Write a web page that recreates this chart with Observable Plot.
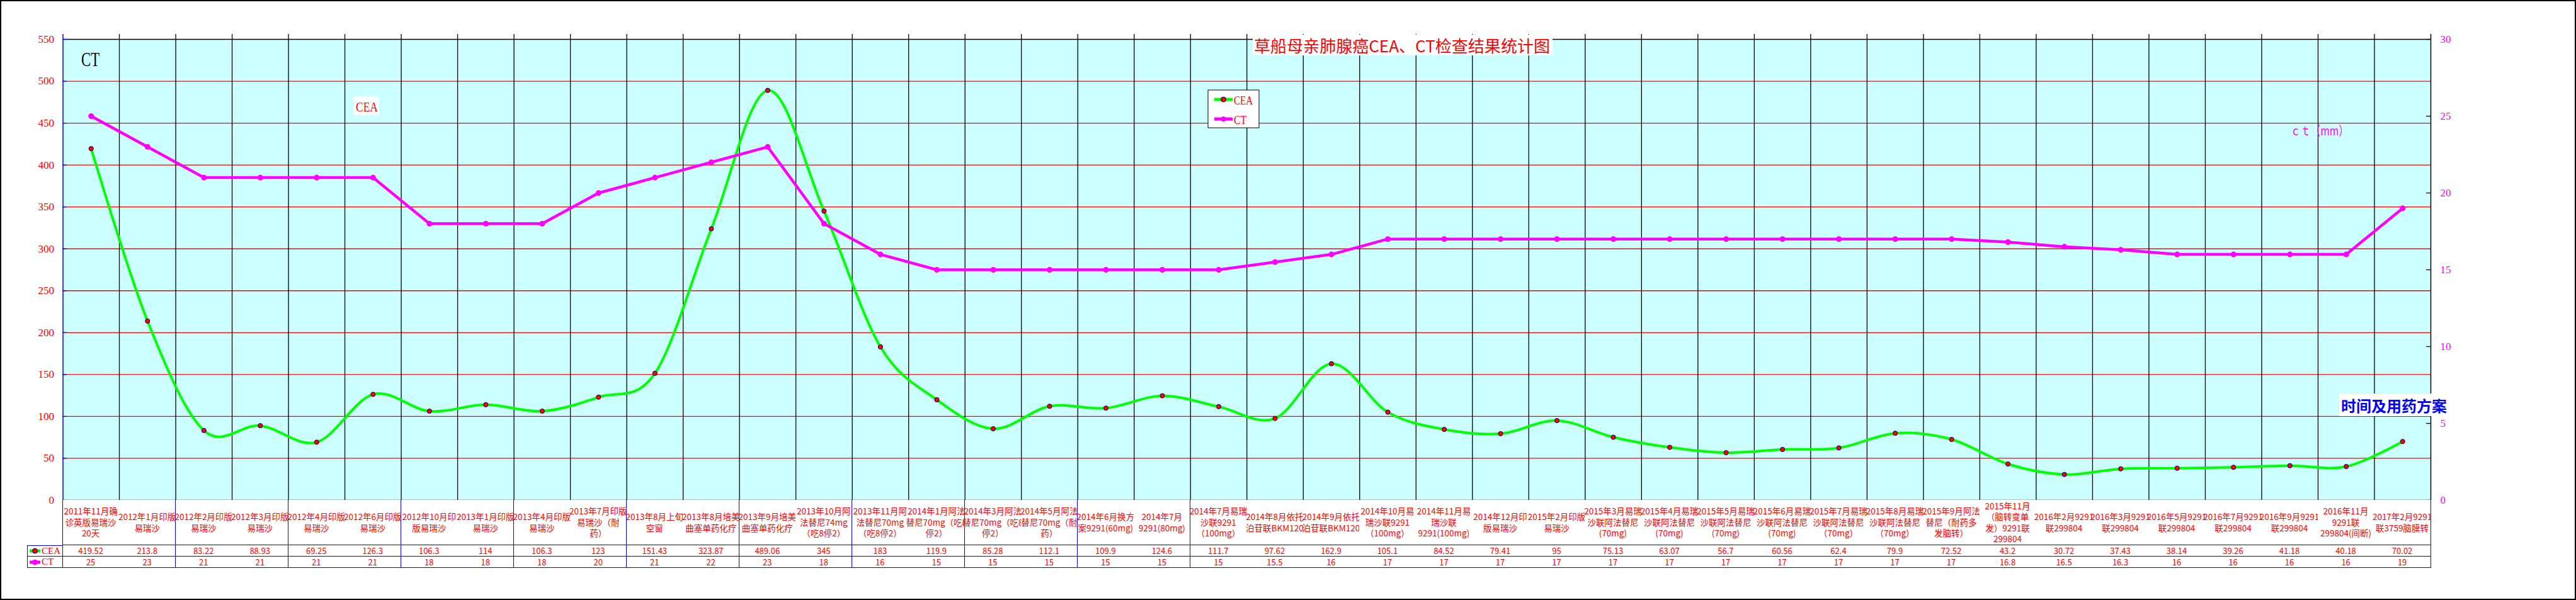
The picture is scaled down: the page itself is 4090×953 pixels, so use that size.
<!DOCTYPE html>
<html><head><meta charset="utf-8">
<script src="https://cdn.jsdelivr.net/npm/d3@7"></script>
<script src="https://cdn.jsdelivr.net/npm/@observablehq/plot@0.6"></script>
<style>
body{margin:0;background:#fff;}
#wrap{position:relative;width:4090px;height:953px;overflow:hidden;background:#fff;}
#chart{position:absolute;left:0;top:0;}
#frame{position:absolute;left:0;top:0;width:4090px;height:953px;box-sizing:border-box;border:2px solid #000;pointer-events:none;}
.cell{position:absolute;box-sizing:border-box;border-right:1.5px solid #00f;border-bottom:1.5px solid #00f;background:#fff;color:#f00;display:flex;align-items:center;justify-content:center;text-align:center;white-space:pre;overflow:visible;}
.hdr{font-family:"Noto Sans CJK SC";font-size:13.5px;line-height:17.5px;}
.val{font-family:"Noto Sans CJK SC";font-size:13px;line-height:18px;}
.leg{justify-content:flex-start;font-family:"Liberation Serif";font-size:15px;}
</style></head><body>
<div id="wrap"><div id="chart"></div><div id="frame"></div></div>
<script>
const labels = [
"2011年11月确\n诊英版易瑞沙\n20天","2012年1月印版\n易瑞沙","2012年2月印版\n易瑞沙","2012年3月印版\n易瑞沙","2012年4月印版\n易瑞沙","2012年6月印版\n易瑞沙","2012年10月印\n版易瑞沙","2013年1月印版\n易瑞沙","2013年4月印版\n易瑞沙","2013年7月印版\n易瑞沙（耐\n药）","2013年8月上旬\n空窗","2013年8月培美\n曲塞单药化疗","2013年9月培美\n曲塞单药化疗","2013年10月阿\n法替尼74mg\n（吃8停2）","2013年11月阿\n法替尼70mg\n（吃8停2）","2014年1月阿法\n替尼70mg（吃8\n停2）","2014年3月阿法\n替尼70mg（吃8\n停2）","2014年5月阿法\n替尼70mg（耐\n药）","2014年6月换方\n案9291(60mg)","2014年7月\n9291(80mg)","2014年7月易瑞\n沙联9291\n（100mg）","2014年8月依托\n泊苷联BKM120","2014年9月依托\n泊苷联BKM120","2014年10月易\n瑞沙联9291\n（100mg）","2014年11月易\n瑞沙联\n9291(100mg)","2014年12月印\n版易瑞沙","2015年2月印版\n易瑞沙","2015年3月易瑞\n沙联阿法替尼\n(70mg)","2015年4月易瑞\n沙联阿法替尼\n(70mg)","2015年5月易瑞\n沙联阿法替尼\n(70mg)","2015年6月易瑞\n沙联阿法替尼\n(70mg)","2015年7月易瑞\n沙联阿法替尼\n（70mg）","2015年8月易瑞\n沙联阿法替尼\n（70mg）","2015年9月阿法\n替尼（耐药多\n发脑转）","2015年11月\n（脑转变单\n发）9291联\n299804","2016年2月9291\n联299804","2016年3月9291\n联299804","2016年5月9291\n联299804","2016年7月9291\n联299804","2016年9月9291\n联299804","2016年11月\n9291联\n299804(间断)","2017年2月9291\n联3759脑膜转"];
const ceaText = ["419.52","213.8","83.22","88.93","69.25","126.3","106.3","114","106.3","123","151.43","323.87","489.06","345","183","119.9","85.28","112.1","109.9","124.6","111.7","97.62","162.9","105.1","84.52","79.41","95","75.13","63.07","56.7","60.56","62.4","79.9","72.52","43.2","30.72","37.43","38.14","39.26","41.18","40.18","70.02"];
const ctText = ["25","23","21","21","21","21","18","18","18","20","21","22","23","18","16","15","15","15","15","15","15","15.5","16","17","17","17","17","17","17","17","17","17","17","17","16.8","16.5","16.3","16","16","16","16","19"];
const cea = ceaText.map(Number);
const ct = ctText.map(Number);
const ceaTicks = [0,50,100,150,200,250,300,350,400,450,500,550];
const ctTicks = [0,5,10,15,20,25,30];
const CEA_MAX = 550, CT_MAX = 30;

const n = labels.length;
const idx = d3.range(n);
const ctY = v => v * CEA_MAX / CT_MAX;
const cx = i => i + 0.5;

const plot = Plot.plot({
  width: 4090, height: 953,
  marginLeft: 99.5, marginRight: 231, marginTop: 62, marginBottom: 159,
  x: {domain: [0, n], axis: null},
  y: {domain: [0, CEA_MAX], axis: null},
  style: {background: "transparent", fontFamily: "Liberation Serif", overflow: "visible"},
  marks: [
    Plot.frame({fill: "#CCFFFF", stroke: "none"}),
    Plot.ruleY(ceaTicks.filter(d => d > 0 && d < CEA_MAX), {stroke: "#FF0000", strokeWidth: 1.3}),
    Plot.ruleX(d3.range(1, n), {stroke: "#000", strokeWidth: 1.3, insetTop: -8}),
    Plot.ruleY([CEA_MAX], {stroke: "#000", strokeWidth: 1.5}),
    Plot.ruleX([0], {stroke: "#0000FF", strokeWidth: 1.5, insetTop: -8}),
    Plot.ruleX([n], {stroke: "#000", strokeWidth: 1.5, insetTop: -8}),
    Plot.ruleY([0], {stroke: "#0000FF", strokeWidth: 1.5}),
    Plot.ruleY(ceaTicks, {x1: () => 0, x2: () => 0, insetRight: -6, stroke: "#0000FF", strokeWidth: 1.3}),
    Plot.ruleY(ctTicks, {y: ctY, x1: () => n, x2: () => n, insetLeft: -7, stroke: "#000", strokeWidth: 1.3}),
    Plot.text(ceaTicks, {x: () => 0, y: d => d, text: d => String(d), textAnchor: "end", dx: -14, fill: "#FF0000", fontSize: 17, fontFamily: "Liberation Serif"}),
    Plot.text(ctTicks, {x: () => n, y: ctY, text: d => String(d), textAnchor: "start", dx: 15, fill: "#FF00FF", fontSize: 17, fontFamily: "Liberation Serif"}),
    Plot.line(idx, {x: cx, y: i => cea[i], curve: "cardinal", stroke: "#00FF00", strokeWidth: 4}),
    Plot.dot(idx, {x: cx, y: i => cea[i], r: 3.6, fill: "#FF0000", stroke: "#000080", strokeWidth: 1}),
    Plot.line(idx, {x: cx, y: i => ctY(ct[i]), stroke: "#FF00FF", strokeWidth: 4.5}),
    Plot.dot(idx, {x: cx, y: i => ctY(ct[i]), r: 3.8, fill: "#FF00FF", stroke: "#FF00FF"})
  ]
});
document.getElementById("chart").appendChild(plot);

// annotations
const svg = d3.select(plot);
const g = svg.append("g").attr("text-anchor", "start");
function label(x, y, s, o) {
  if (o.box) g.append("rect").attr("x", o.box[0]).attr("y", o.box[1]).attr("width", o.box[2]).attr("height", o.box[3]).attr("fill", "#fff").attr("stroke", o.boxStroke || "none");
  const t = g.append("text").attr("x", x).attr("y", y).text(s)
    .attr("text-anchor", "start")
    .attr("fill", o.fill).attr("font-size", o.size).attr("font-family", o.font || "Liberation Serif")
    .attr("dominant-baseline", o.baseline || "central");
  if (o.weight) t.attr("font-weight", o.weight);
  if (o.len) t.attr("textLength", o.len).attr("lengthAdjust", "spacingAndGlyphs");
  return t;
}
label(1991, 71, "草船母亲肺腺癌CEA、CT检查结果统计图", {fill: "#FF0000", size: 26, font: "Noto Sans CJK SC", len: 470, box: [1989, 55, 476, 33]});
label(129, 105, "CT", {fill: "#000", size: 32, baseline: "alphabetic", len: 29});
label(565, 176.5, "CEA", {fill: "#FF0000", size: 21, baseline: "alphabetic", len: 35, box: [561.5, 153, 40, 30]});
label(3637, 206.5, "ｃｔ（mm）", {fill: "#FF00FF", size: 20, font: "Noto Sans CJK SC", len: 92});
label(3717, 643, "时间及用药方案", {fill: "#0000FF", size: 24, font: "Noto Sans CJK SC", weight: "bold", len: 168, box: [3714, 625, 173, 36]});
// legend box
g.append("rect").attr("x", 1918).attr("y", 143).attr("width", 81).attr("height", 60).attr("fill", "#fff").attr("stroke", "#000").attr("stroke-width", 1);
g.append("line").attr("x1", 1928).attr("x2", 1957).attr("y1", 158).attr("y2", 158).attr("stroke", "#00FF00").attr("stroke-width", 5);
g.append("circle").attr("cx", 1942.5).attr("cy", 158).attr("r", 4).attr("fill", "#FF0000").attr("stroke", "#000080");
label(1959, 159, "CEA", {fill: "#FF0000", size: 19, len: 30});
g.append("line").attr("x1", 1928).attr("x2", 1957).attr("y1", 189).attr("y2", 189).attr("stroke", "#FF00FF").attr("stroke-width", 5);
g.append("circle").attr("cx", 1942.5).attr("cy", 189).attr("r", 4).attr("fill", "#FF00FF");
label(1959, 190, "CT", {fill: "#FF0000", size: 19, len: 20});

// data table below the plot, aligned with the plot's x scale
const sx = plot.scale("x"), sy = plot.scale("y");
const wrap = d3.select("#wrap");
const top0 = sy.apply(0);
const rows = [[top0, top0 + 72], [top0 + 72, top0 + 90], [top0 + 90, top0 + 108]];
function cell(x0, x1, r, cls, html) {
  return wrap.insert("div", "#frame").attr("class", "cell " + cls)
    .style("left", x0 + "px").style("width", (x1 - x0) + "px")
    .style("top", rows[r][0] + "px").style("height", (rows[r][1] - rows[r][0]) + "px")
    .html(html);
}
idx.forEach(i => {
  const a = sx.apply(i), b = sx.apply(i + 1);
  cell(a, b + 0.75, 0, "hdr", "").text(labels[i]);
  cell(a, b + 0.75, 1, "val", "").text(ceaText[i]);
  cell(a, b + 0.75, 2, "val", "").text(ctText[i]);
});
// left border of table
wrap.insert("div", "#frame").style("position", "absolute").style("left", (sx.apply(0) - 0.75) + "px").style("top", top0 + "px")
  .style("width", "1.5px").style("height", (rows[2][1] - top0) + "px").style("background", "#00f");
const lx0 = 43;
const icon = (col, dot) => `<svg width="18" height="10" style="margin-left:3px;margin-right:1px"><line x1="0" x2="17" y1="5" y2="5" stroke="${col}" stroke-width="5"/><circle cx="8.5" cy="5" r="4" fill="${dot}" stroke="${col === '#00FF00' ? '#000080' : col}"/></svg>`;
cell(lx0, sx.apply(0) + 0.75, 1, "leg", icon("#00FF00", "#FF0000") + "<span>CEA</span>").style("border-left", "1.5px solid #00f").style("border-top", "1.5px solid #00f");
cell(lx0, sx.apply(0) + 0.75, 2, "leg", icon("#FF00FF", "#FF00FF") + "<span>CT</span>").style("border-left", "1.5px solid #00f");
</script>
</body></html>
